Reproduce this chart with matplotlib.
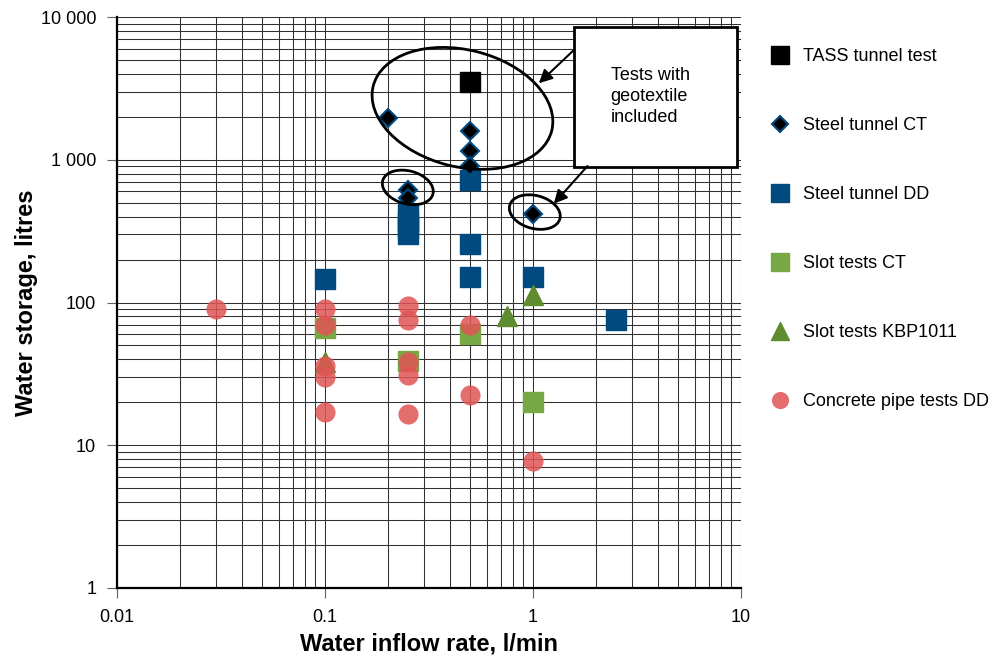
import matplotlib
matplotlib.use("Agg")
import matplotlib.pyplot as plt
from matplotlib.patches import Ellipse, Rectangle
from matplotlib.transforms import ScaledTranslation

plt.rcParams['font.family'] = ['Liberation Sans', 'DejaVu Sans']

# inflow rate (l/min) and storage (litres) per test series
tass_x = [0.5]
tass_y = [3500]

steel_ct_x = [0.2, 0.5, 0.5, 0.5, 0.25, 0.25, 1.0]
steel_ct_y = [1950, 1600, 1150, 900, 610, 540, 420]

steel_dd_x = [0.1, 0.25, 0.25, 0.25, 0.25, 0.5, 0.5, 0.5, 1.0, 2.5]
steel_dd_y = [145, 420, 370, 330, 300, 720, 255, 150, 150, 76]

slot_ct_x = [0.1, 0.25, 0.5, 1.0]
slot_ct_y = [66, 39, 60, 20]

slot_kbp_x = [0.1, 0.75, 1.0]
slot_kbp_y = [38, 80, 112]

pipe_x = [0.03, 0.1, 0.1, 0.1, 0.1, 0.1, 0.25, 0.25, 0.25, 0.25, 0.25, 0.5, 0.5, 1.0]
pipe_y = [90, 90, 70, 36, 30, 17, 95, 75, 38, 31, 16.5, 70, 22.5, 7.8]

x_ticks = [0.01, 0.1, 1, 10]
x_labels = ['0.01', '0.1', '1', '10']
y_ticks = [1, 10, 100, 1000, 10000]
y_labels = ['1', '10', '100', '1 000', '10 000']

BLUE = '#004a80'
LGREEN = '#77a844'
DGREEN = '#5e8c2f'
RED = '#e05555'

fig = plt.figure(figsize=(9.97, 6.62), dpi=100)
ax = fig.add_axes([117 / 997, 1 - 588 / 662, 624 / 997, 571 / 662])

ax.set_xscale('log')
ax.set_yscale('log')
ax.set_xlim(0.01, 10)
ax.set_ylim(1, 10000)

ax.grid(True, which='both', color='#303030', linewidth=0.75, zorder=0)
ax.set_axisbelow(True)
for s in ['top', 'right']:
    ax.spines[s].set_visible(False)
for s in ['left', 'bottom']:
    ax.spines[s].set_linewidth(1.6)

ax.set_xticks(x_ticks, x_labels)
ax.set_yticks(y_ticks, y_labels)
ax.tick_params(which='major', length=7, width=0.8, color='#606060',
               labelsize=13, pad=8)
ax.tick_params(which='minor', length=0)

ax.set_xlabel('Water inflow rate, l/min', fontsize=17, fontweight='bold',
              labelpad=5)
ax.set_ylabel('Water storage, litres', fontsize=17, fontweight='bold',
              labelpad=2)

ms = 14.5
ax.plot(tass_x, tass_y, 's', color='black', ms=ms, zorder=3,
        label='TASS tunnel test')
ax.plot(steel_dd_x, steel_dd_y, 's', color=BLUE, ms=ms, zorder=3,
        label='Steel tunnel DD')
ax.plot(steel_ct_x, steel_ct_y, 'D', mfc='black', mec=BLUE, mew=1.5,
        ms=9.5, zorder=4, label='Steel tunnel CT')
ax.plot(slot_ct_x, slot_ct_y, 's', color=LGREEN, ms=ms, zorder=3,
        label='Slot tests CT')
ax.plot(slot_kbp_x, slot_kbp_y, '^', color=DGREEN, ms=ms, zorder=3,
        label='Slot tests KBP1011')
ax.plot(pipe_x, pipe_y, 'o', color=RED, alpha=0.85, mec='none', ms=ms,
        zorder=5, label='Concrete pipe tests DD')

# ellipses around the geotextile tests, sized in inches about a data point
def ring(cx, cy, w, h, ang):
    tr = fig.dpi_scale_trans + ScaledTranslation(cx, cy, ax.transData)
    ax.add_patch(Ellipse((0, 0), w, h, angle=ang, transform=tr, fill=False,
                         edgecolor='black', linewidth=2, zorder=6,
                         clip_on=False))

ring(0.458, 2290, 1.84, 1.17, -14)
ring(0.25, 640, 0.52, 0.33, -15)
ring(1.02, 430, 0.52, 0.33, -15)

ax.add_patch(Rectangle((0.732, 0.738), 0.262, 0.245, transform=ax.transAxes,
                       facecolor='white', edgecolor='black', linewidth=2,
                       zorder=7, clip_on=False))
ax.text(0.791, 0.861, 'Tests with\ngeotextile\nincluded', transform=ax.transAxes,
        fontsize=13, ha='left', va='center', linespacing=1.3, zorder=8)

arrow = dict(arrowstyle='-|>', color='black', lw=1.5, mutation_scale=20,
             shrinkA=0, shrinkB=0)
ax.annotate('', xy=(0.676, 0.884), xytext=(0.732, 0.942),
            xycoords='axes fraction', textcoords='axes fraction',
            arrowprops=arrow, zorder=8)
ax.annotate('', xy=(0.700, 0.673), xytext=(0.754, 0.739),
            xycoords='axes fraction', textcoords='axes fraction',
            arrowprops=arrow, zorder=8)

order = ['TASS tunnel test', 'Steel tunnel CT', 'Steel tunnel DD',
         'Slot tests CT', 'Slot tests KBP1011', 'Concrete pipe tests DD']
handles, labels = ax.get_legend_handles_labels()
lookup = dict(zip(labels, handles))
ax.legend([lookup[k] for k in order], order, loc='upper left',
          bbox_to_anchor=(769 / 997, 1 - 48 / 662),
          bbox_transform=fig.transFigure, frameon=False, fontsize=13,
          markerscale=0.85, labelspacing=2.88, handlelength=1.2,
          handletextpad=0.7, borderaxespad=0, borderpad=0)

fig.savefig('out.png', dpi=100)
